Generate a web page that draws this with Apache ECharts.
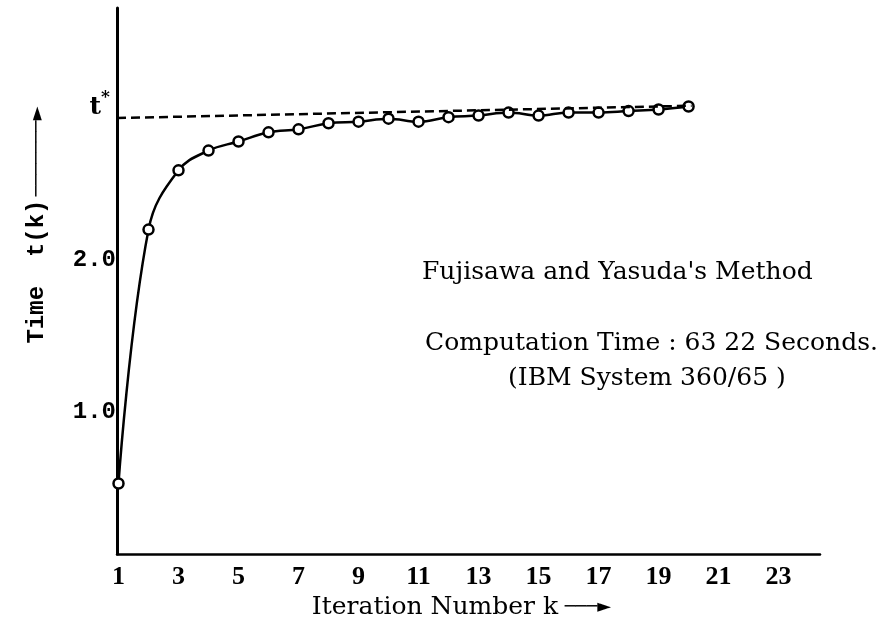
<!DOCTYPE html>
<html>
<head>
<meta charset="utf-8">
<script src="https://cdn.jsdelivr.net/npm/echarts@6/dist/echarts.min.js"></script>
<style>
html,body{margin:0;padding:0;background:#fff;}
#c{width:890px;height:643px;}
</style>
</head>
<body>
<div id="c"></div>
<script>
// ---- data ----
const iterations = [1,2,3,4,5,6,7,8,9,10,11,12,13,14,15,16,17,18,19,20];
const timeValues = [0.53,2.20,2.59,2.72,2.78,2.84,2.86,2.90,2.91,2.93,2.91,2.94,2.95,2.97,2.95,2.97,2.97,2.98,2.99,3.01];
const xTickLabels = [1,3,5,7,9,11,13,15,17,19,21,23];
const yTickLabels = [1.0, 2.0];
const tStarStart = 2.934;   // dashed t* line, left end
const tStarEnd = 3.015;     // dashed t* line, right end (slight scan tilt)
const tStarEndIter = 20.1;
const xName = 'Iteration Number k';
const yName = 'Time  t(k)';
const notes = ["Fujisawa and Yasuda's Method", 'Computation Time : 63 22 Seconds.', '(IBM System 360/65 )'];

const SERIF = 'DejaVu Serif';
const TYPE = 'Liberation Mono';
const chart = echarts.init(document.getElementById('c'), null, {renderer: 'canvas'});

const xMin = 0.95, xMax = 24.38;
const yMin = 0.066, yMax = 3.658;

chart.setOption({
  backgroundColor: '#fff',
  animation: false,
  grid: {left: 117, right: 70, top: 8, bottom: 89, containLabel: false},
  xAxis: {
    type: 'value', min: xMin, max: xMax,
    axisLine: {show: true, onZero: false, lineStyle: {color: '#000', width: 2.5}},
    axisTick: {show: false},
    splitLine: {show: false},
    axisLabel: {
      customValues: xTickLabels,
      color: '#000', fontFamily: 'Liberation Serif', fontSize: 26, fontWeight: 'bold', margin: 10,
      formatter: v => String(v)
    },
    name: '{t|' + xName + '}  {a|───►}',
    nameLocation: 'middle', nameGap: 36,
    nameTextStyle: {
      padding: [0, 14, 0, 0],
      rich: {
        t: {fontFamily: SERIF, fontSize: 25, color: '#000'},
        a: {fontFamily: 'DejaVu Sans', fontSize: 18, color: '#000', fontWeight: 'bold'}
      }
    }
  },
  yAxis: {
    type: 'value', min: yMin, max: yMax,
    axisLine: {show: true, onZero: false, lineStyle: {color: '#000', width: 3}},
    axisTick: {show: false},
    splitLine: {show: false},
    axisLabel: {
      customValues: yTickLabels.concat([tStarStart]),
      margin: 1,
      formatter: v => (v === tStarStart ? '{ts|t}{st|*}' : '{n|' + v.toFixed(1) + '}'),
      rich: {
        n: {fontFamily: TYPE, fontSize: 24, fontWeight: 'bold', color: '#000'},
        ts: {fontFamily: SERIF, fontSize: 25, fontWeight: 'bold', color: '#000', padding: [0, 0, 22, 0]},
        st: {fontFamily: SERIF, fontSize: 17, fontWeight: 'bold', color: '#000', padding: [0, 6, 40, 0]}
      }
    },
    name: '{t|' + yName + '} {a|───────►}',
    nameLocation: 'middle', nameRotate: 90, nameGap: 68,
    nameTextStyle: {
      padding: [0, 0, 0, 112],
      rich: {
        t: {fontFamily: TYPE, fontSize: 24, color: '#000', fontWeight: 'bold'},
        a: {fontFamily: 'DejaVu Sans', fontSize: 18, color: '#000', fontWeight: 'bold'}
      }
    }
  },
  series: [{
    type: 'line',
    data: iterations.map((k, i) => [k, timeValues[i]]),
    smooth: 0.4,
    symbol: 'circle', symbolSize: 10,
    lineStyle: {color: '#000', width: 2.5},
    itemStyle: {color: '#fff', borderColor: '#000', borderWidth: 2.5},
    markLine: {
      silent: true, symbol: ['none', 'none'],
      label: {show: false},
      lineStyle: {color: '#000', type: [9, 5], width: 2.5},
      data: [[{coord: [xMin, tStarStart]}, {coord: [tStarEndIter, tStarEnd]}]]
    },
    z: 3
  }],
  graphic: [
    {type: 'text', left: 422, top: 260, style: {text: notes[0], font: '25px "DejaVu Serif"', fill: '#000'}},
    {type: 'text', left: 425, top: 331, style: {text: notes[1], font: '25px "DejaVu Serif"', fill: '#000'}},
    {type: 'text', left: 508, top: 366, style: {text: notes[2], font: '25px "DejaVu Serif"', fill: '#000'}}
  ]
});
</script>
</body>
</html>
